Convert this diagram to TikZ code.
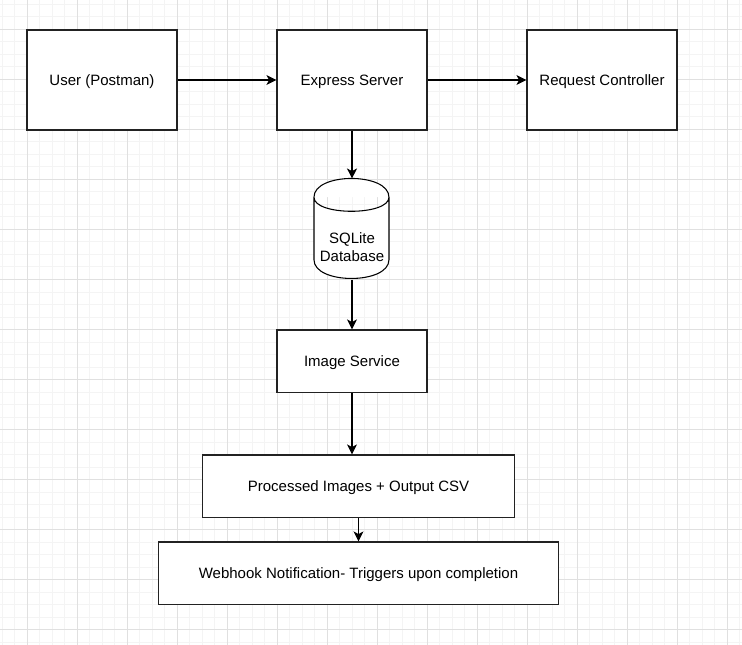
\documentclass[tikz,border=0pt]{standalone}
\usepackage{fontspec}
\setmainfont{Liberation Sans}
\usetikzlibrary{arrows.meta}
\definecolor{gridminor}{HTML}{F4F4F4}
\definecolor{gridmajor}{HTML}{E0E0E0}
\definecolor{rand}{HTML}{222222}
\begin{document}
\begin{tikzpicture}[x=0.75pt, y=-0.75pt, node distance=187.5pt, >={Stealth[length=7.5pt, width=7.5pt, inset=2pt]},
  box/.style={draw=rand, rectangle, fill=white, line width=0.9pt, minimum width=112.5pt, minimum height=75pt, text height=0.95em, text depth=0.15em, font=\fontsize{11.25}{13.5}\selectfont},
  line width=0.8pt]

\useasboundingbox (0,0) rectangle (742,645);
\fill[white] (0,0) rectangle (742,645);

% Raster
\foreach \x in {2,14.5,...,742} \draw[gridminor, line width=0.75pt] (\x,0) -- (\x,645);
\foreach \y in {4.5,17,...,645} \draw[gridminor, line width=0.75pt] (0,\y) -- (742,\y);
\foreach \x in {27,77,...,742} \draw[gridmajor, line width=0.75pt] (\x,0) -- (\x,645);
\foreach \y in {29.5,79.5,...,645} \draw[gridmajor, line width=0.75pt] (0,\y) -- (742,\y);

% Boxen
\node[box] (user) at (102,80) {User (Postman)};
\node[box, right of=user] (express) {Express Server};
\node[box, right of=express] (request) {Request Controller};

\node[minimum width=56.25pt, minimum height=75pt, inner sep=0pt] (db) at (352,229) {};
\draw[fill=white, shift={(db.north west)}] (0,18.75) .. controls (0,-6.25) and (75,-6.25) .. (75,18.75) -- (75,81.25) .. controls (75,106.25) and (0,106.25) .. (0,81.25) -- cycle
  (0,18.75) .. controls (0,37.5) and (75,37.5) .. (75,18.75);
\node[align=center, font=\fontsize{11.25}{13.5}\selectfont] (dbtext) at (352,247) {SQLite\\Database};

\node[box, minimum height=46.875pt] (image) at (352,361.25) {Image Service};
\node[box, minimum width=234.375pt, minimum height=46.875pt] (processed) at (358.5,486.25) {Processed Images + Output CSV};
\node[box, minimum width=300pt, minimum height=46.875pt] (webhook) at (358.5,573.25) {Webhook Notification- Triggers upon completion};

% Pfeile
\draw[->] (user) -- (express);
\draw[->] (express) -- (request);
\draw[->] (express) -- (db);
\draw[->] (db) -- (image);
\draw[->] (image) -- (image |- processed.north);
\draw[->] (processed) -- (webhook);

\end{tikzpicture}
\end{document}
